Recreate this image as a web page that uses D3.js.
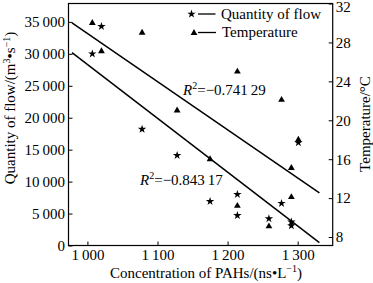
<!DOCTYPE html>
<html>
<head>
<meta charset="utf-8">
<script src="https://cdn.jsdelivr.net/npm/d3@7"></script>
<style>
  body { margin: 0; background: #fff; }
  svg { font-family: "Liberation Serif", "DejaVu Serif", serif; }
</style>
</head>
<body>
<svg id="chart" width="373" height="283"></svg>
<script>
// data
const pahs        = [1007, 1020, 1078, 1128, 1175, 1214, 1214, 1259, 1277, 1291, 1291, 1301];
const flow        = [30000, 34300, 18200, 14100, 6900, 8000, 4700, 4200, 6600, 3700, 3100, 16100];
const temperature = [30.0, 27.1, 29.0, 21.0, 16.0, 25.0, 11.2, 9.1, 22.1, 12.1, 15.1, 18.0];

// fitted lines (end points)
const fitX = [978, 1331];
const flowFit = [30200, 450];
const tempFit = [30.0, 12.55];

const xTicks = [1000, 1100, 1200, 1300];
const flowTicks = [0, 5000, 10000, 15000, 20000, 25000, 30000, 35000];
const tempTicks = [8, 12, 16, 20, 24, 28, 32];

const fmt = v => d3.format(",")(v).replace(",", "\u2009");

const margin = { top: 3.5, right: 40.3, bottom: 37.5, left: 68.5 };
const width = 373 - margin.left - margin.right;
const height = 283 - margin.top - margin.bottom;

const svg = d3.select("#chart");
const g = svg.append("g")
  .attr("transform", `translate(${margin.left}, ${margin.top})`);

const xScale = d3.scaleLinear().domain([973, 1350]).range([0, width]);
const yFlow = d3.scaleLinear().domain([0, 37880]).range([height, 0]);
const yTemp = d3.scaleLinear().domain([7.13, 32]).range([height, 0]);

// axes, ticks pointing inward
const xAxis = g.append("g")
  .attr("transform", `translate(0, ${height})`)
  .call(d3.axisBottom(xScale).tickValues(xTicks).tickSize(-4).tickPadding(4).tickFormat(fmt));

const yAxisL = g.append("g")
  .call(d3.axisLeft(yFlow).tickValues(flowTicks).tickSize(-4).tickPadding(3.5).tickFormat(fmt));

const yAxisR = g.append("g")
  .attr("transform", `translate(${width}, 0)`)
  .call(d3.axisRight(yTemp).tickValues(tempTicks).tickSize(-4).tickPadding(3));

[xAxis, yAxisL, yAxisR].forEach(a => {
  a.select(".domain").remove();
  a.selectAll("line").attr("stroke", "#000");
  a.selectAll("text")
    .attr("font-family", "Liberation Serif")
    .attr("font-size", "15px")
    .attr("fill", "#000");
});

// top label of the right axis sits right at the edge, nudge it in a bit
yAxisR.selectAll(".tick text").filter(d => d === 32).attr("dy", "0.5em");

// frame
g.append("rect")
  .attr("width", width)
  .attr("height", height)
  .attr("fill", "none")
  .attr("stroke", "#000")
  .attr("stroke-width", 1.2);

// fit lines
g.append("line")
  .attr("x1", xScale(fitX[0])).attr("y1", yTemp(tempFit[0]))
  .attr("x2", xScale(fitX[1])).attr("y2", yTemp(tempFit[1]))
  .attr("stroke", "#000").attr("stroke-width", 1.5);

g.append("line")
  .attr("x1", xScale(fitX[0])).attr("y1", yFlow(flowFit[0]))
  .attr("x2", xScale(fitX[1])).attr("y2", yFlow(flowFit[1]))
  .attr("stroke", "#000").attr("stroke-width", 1.5);

// points
const star = d3.symbol().type(d3.symbolStar).size(22);
const tri = d3.symbol().type(d3.symbolTriangle).size(20);

g.selectAll(".star")
  .data(pahs)
  .enter()
  .append("path")
  .attr("class", "star")
  .attr("d", star)
  .attr("transform", (d, i) => `translate(${xScale(d)}, ${yFlow(flow[i])})`)
  .attr("fill", "#000");

g.selectAll(".tri")
  .data(pahs)
  .enter()
  .append("path")
  .attr("class", "tri")
  .attr("d", tri)
  .attr("transform", (d, i) => `translate(${xScale(d)}, ${yTemp(temperature[i])})`)
  .attr("fill", "#000");

// legend
const legend = svg.append("g").attr("font-size", "15px");
legend.append("path").attr("d", star).attr("transform", "translate(191.5, 14)");
legend.append("line").attr("x1", 198).attr("x2", 215.5).attr("y1", 14).attr("y2", 14).attr("stroke", "#000").attr("stroke-width", 1.3);
legend.append("text").attr("x", 221).attr("y", 18.5).text("Quantity of flow");
legend.append("path").attr("d", tri).attr("transform", "translate(194, 33)");
legend.append("line").attr("x1", 198).attr("x2", 216).attr("y1", 32.5).attr("y2", 32.5).attr("stroke", "#000").attr("stroke-width", 1.3);
legend.append("text").attr("x", 222).attr("y", 37).text("Temperature");

// R2 labels
function r2(x, y, value) {
  const t = svg.append("text").attr("x", x).attr("y", y).attr("font-size", "15px");
  t.append("tspan").attr("font-style", "italic").text("R");
  t.append("tspan").attr("font-size", "10px").attr("dy", -6).text("2");
  t.append("tspan").attr("dy", 6).text("=\u2212" + value);
}
r2(183, 95, "0.741\u200929");
r2(140, 185, "0.843\u200917");

// axis titles
svg.append("text")
  .attr("x", 206)
  .attr("y", 278)
  .attr("text-anchor", "middle")
  .attr("font-size", "15px")
  .html('Concentration of PAHs/(ns\u2022L<tspan font-size="10px" dy="-6">\u22121</tspan><tspan dy="6">)</tspan>');

svg.append("text")
  .attr("transform", "rotate(-90)")
  .attr("x", -108)
  .attr("y", 14.5)
  .attr("text-anchor", "middle")
  .attr("font-size", "15px")
  .html('Quantity of flow/(m<tspan font-size="10px" dy="-5">3</tspan><tspan dy="5">\u2022s</tspan><tspan font-size="10px" dy="-5">\u22121</tspan><tspan dy="5">)</tspan>');

svg.append("text")
  .attr("transform", "rotate(-90)")
  .attr("x", -124)
  .attr("y", 369.5)
  .attr("text-anchor", "middle")
  .attr("font-size", "15px")
  .text("Temperature/\u00B0C");
</script>
</body>
</html>
